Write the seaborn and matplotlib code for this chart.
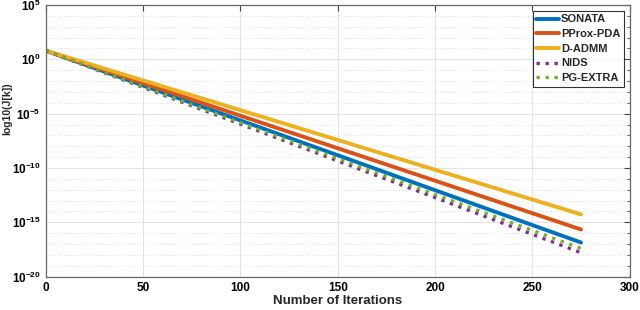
import numpy as np
import pandas as pd
import seaborn as sns
import matplotlib
matplotlib.use("Agg")
import matplotlib.pyplot as plt
from matplotlib.ticker import FixedLocator, LogLocator, NullFormatter

# ---- data ----
iterations = [0, 50, 100, 150, 200, 250, 275]
sonata   = [6.3e0, 3.9e-3, 2.4e-6, 1.5e-9, 9.1e-13, 5.6e-16, 1.4e-17]
pprox    = [6.3e0, 6.5e-3, 6.5e-6, 6.6e-9, 6.8e-12, 6.9e-15, 2.2e-16]
dadmm    = [6.3e0, 1.15e-2, 2.1e-5, 3.8e-8, 6.9e-11, 1.26e-13, 5.4e-15]
nids     = [6.3e0, 2.6e-3, 1.1e-6, 4.5e-10, 1.9e-13, 7.8e-17, 1.6e-18]
pgextra  = [6.3e0, 3.1e-3, 1.5e-6, 7.4e-10, 3.6e-13, 1.8e-16, 4.0e-18]
methods = ["SONATA", "PProx-PDA", "D-ADMM", "NIDS", "PG-EXTRA"]
xticks = [0, 50, 100, 150, 200, 250, 300]
ytick_exps = [5, 0, -5, -10, -15, -20]

colors = {"SONATA": "#0072BD", "PProx-PDA": "#D95319", "D-ADMM": "#EDB120",
          "NIDS": "#7E2F8E", "PG-EXTRA": "#77AC30"}
dashes = {"SONATA": "", "PProx-PDA": "", "D-ADMM": "",
          "NIDS": (1, 1.7), "PG-EXTRA": (1, 1.7)}

series = [sonata, pprox, dadmm, nids, pgextra]
df = pd.concat([pd.DataFrame({"iter": iterations, "J": vals, "method": m})
                for m, vals in zip(methods, series)], ignore_index=True)

sns.set_style("white")
plt.rcParams["font.family"] = ["Liberation Sans", "DejaVu Sans"]
plt.rcParams["font.weight"] = "bold"
plt.rcParams["mathtext.fontset"] = "custom"
plt.rcParams["mathtext.rm"] = "Liberation Sans:bold"
plt.rcParams["mathtext.bf"] = "Liberation Sans:bold"
plt.rcParams["mathtext.it"] = "Liberation Sans:bold"

fig = plt.figure(figsize=(6.4, 3.1), dpi=100)
ax = fig.add_axes([0.0714, 0.1074, 0.9126, 0.8766])

for m in methods:
    sub = df[df.method == m]
    lw = 2.4 if dashes[m] else 2.8
    sns.lineplot(data=sub, x="iter", y="J", ax=ax, color=colors[m],
                 linewidth=lw, label=m, legend=False, estimator=None,
                 sort=False, dashes=False)
    line = ax.lines[-1]
    if dashes[m]:
        line.set_linestyle((0, dashes[m]))
        line.set_dash_capstyle("butt")

ax.set_yscale("log")
ax.set_xlim(0, 300)
ax.set_ylim(1e-20, 1e5)
ax.set_xticks(xticks)
ax.set_xticklabels([str(t) for t in xticks], fontsize=8.5, fontweight="bold")
ax.yaxis.set_major_locator(FixedLocator([10.0 ** e for e in ytick_exps]))
ax.set_yticklabels([r"$\mathbf{10^{%d}}$" % e for e in ytick_exps], fontsize=8.5)
ax.yaxis.set_minor_locator(LogLocator(base=10, subs=(1.0,), numticks=40))
ax.yaxis.set_minor_formatter(NullFormatter())

ax.grid(True, which="major", color="#e3e3e3", linewidth=0.8, linestyle="-")
ax.grid(True, which="minor", axis="y", color="#d2d2d2", linewidth=0.6,
        linestyle=(0, (1, 2.5)))
ax.set_axisbelow(True)

ax.tick_params(axis="both", which="both", direction="in", top=True, right=True,
               colors="#444444", labelcolor="black")
ax.tick_params(which="major", length=4, width=0.8)
ax.tick_params(which="minor", length=2, width=0.6)
for s in ax.spines.values():
    s.set_color("#666666")
    s.set_linewidth(0.9)

ax.set_xlabel("Number of Iterations", fontsize=9.5, fontweight="bold", labelpad=1)
ax.set_ylabel("log10(J[k])", fontsize=7.5, fontweight="bold")
ax.yaxis.set_label_coords(-0.058, 0.62)

leg = ax.legend(loc="upper right", fontsize=8, frameon=True, fancybox=False,
                edgecolor="black", handlelength=2.0, handletextpad=0.2,
                borderpad=0.35, labelspacing=0.42, borderaxespad=0.5)
leg.get_frame().set_linewidth(0.8)
for t in leg.get_texts():
    t.set_fontweight("bold")

fig.savefig("out.png", dpi=100)
